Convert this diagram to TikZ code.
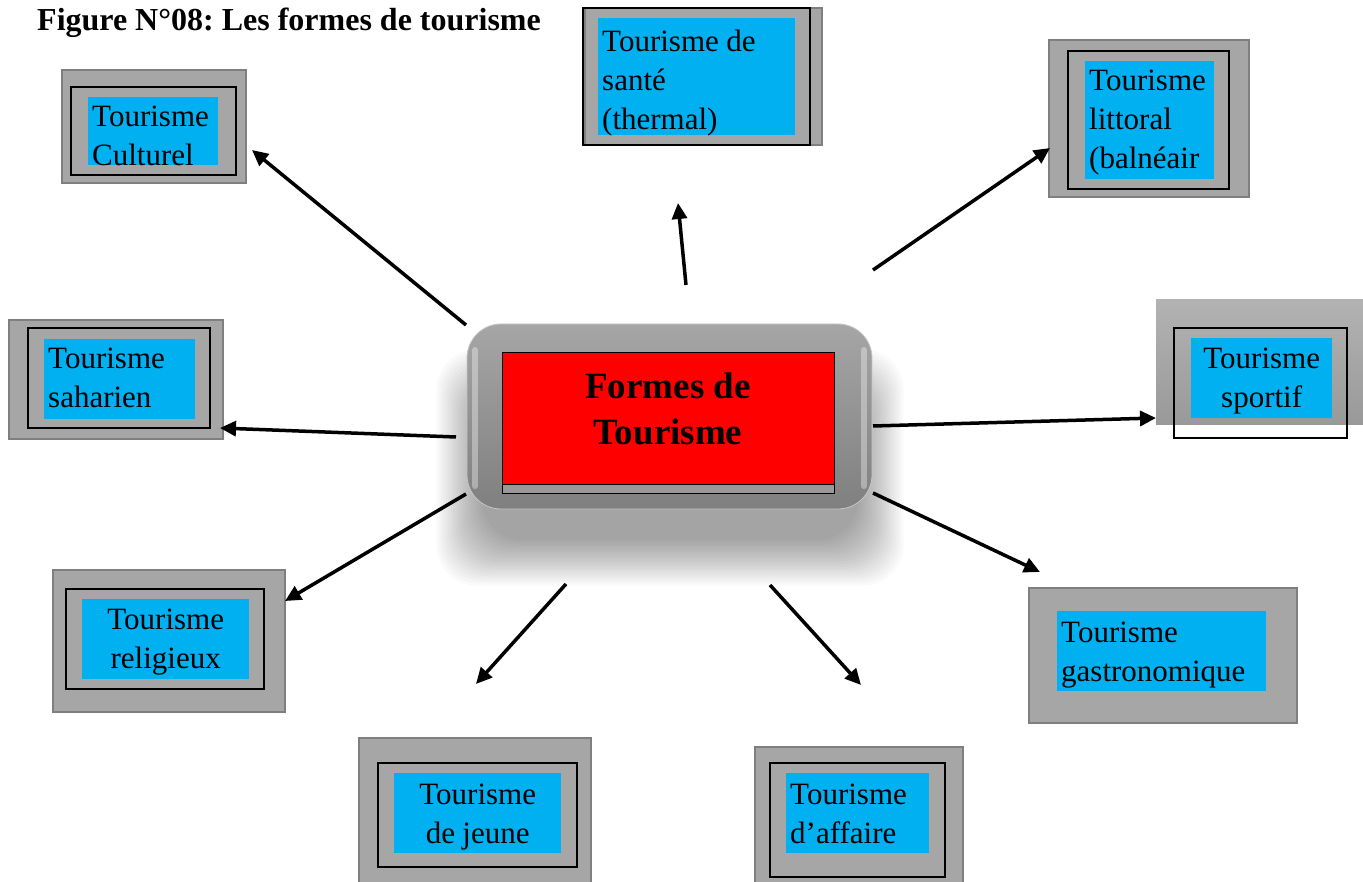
\documentclass[tikz,border=0pt]{standalone}
\usepackage{fontspec}
\setmainfont{Liberation Serif}
\usetikzlibrary{arrows.meta}
\definecolor{boxgray}{HTML}{A6A6A6}
\definecolor{edgegray}{HTML}{7F7F7F}
\definecolor{cyanbox}{HTML}{00B0F0}
\frenchspacing
\newcommand\tagspace{\spaceskip=7.5pt\relax}
\begin{document}
\begin{tikzpicture}[x=1pt,y=-1pt,
  frame/.style={fill=boxgray,draw=edgegray,line width=2pt},
  rim/.style={draw=black,line width=1.2pt},
  % width, text width, first-baseline offset, remaining depth
  tag/.style n args={4}{fill=cyanbox,anchor=north west,inner xsep=4pt,inner ysep=0pt,
    minimum width=#1pt,text width=#2pt,text height=#3pt,text depth=#4pt,
    font=\fontsize{31}{39}\selectfont},
  arrow/.style={line width=3.5pt,-{Triangle[length=16pt,width=15pt]}}
]
\clip (0,0) rectangle (1363,882);
\fill[white] (0,0) rectangle (1363,882);

% title
\node[anchor=base west,inner sep=0pt,font=\bfseries\fontsize{32}{38}\selectfont] (title) at (37,31) {Figure N°08: Les formes de tourisme};

% ---- central element: shadow, bevelled frame, red panel
\foreach \k in {0,...,19}{
  \fill[black,opacity=0.018,rounded corners=40pt]
    (482-\k*2.4,395-\k*2.4) rectangle (858+\k*2.4,540+\k*2.4);
}
\shade[top color=black!35,bottom color=black!50,rounded corners=34pt,draw=black!22,line width=0.8pt]
  (467,324) rectangle (872,509);
\draw[white,opacity=0.35,line width=6pt,line cap=round] (475,350) -- (475,486);
\draw[white,opacity=0.35,line width=6pt,line cap=round] (864,350) -- (864,486);
\fill[black!40,draw=black,line width=1pt] (502,353) rectangle (834,493);
\fill[red,draw=black,line width=1pt] (502,353) rectangle (834,484);
\node[align=center,inner sep=0pt,font=\bfseries\fontsize{37}{46}\selectfont] (core) at (668,409) {Formes de\\Tourisme};

% ---- outer boxes
% culturel
\path[frame] (62,70) rectangle (246,183);
\path[rim] (71,87) rectangle (236,175);
\node[tag={130}{122}{29}{39},align=left] (cult) at (88,97) {Tourisme\\Culturel};
% sante
\path[frame] (585,8) rectangle (822,145);
\path[rim] (583,8) rectangle (810,145);
\node[tag={197}{189}{33}{84},align=left] (sante) at (598,18) {\tagspace Tourisme de\\santé\\(thermal)};
% littoral
\path[frame] (1049,40) rectangle (1249,197);
\path[rim] (1068,51) rectangle (1229,189);
\node[tag={129}{121}{29}{89},align=left] (litt) at (1085,61) {Tourisme\\littoral\\(balnéair};
% sportif
\shade[top color=black!30,bottom color=black!40] (1156,300) rectangle (1363,425);
\path[rim] (1174,328) rectangle (1347,438);
\node[tag={141}{133}{30}{50},align=center] (sport) at (1191,338) {Tourisme\\sportif};
% saharien
\path[frame] (9,320) rectangle (223,439);
\path[rim] (28,328) rectangle (210,428);
\node[tag={151}{143}{29}{51},align=left] (sahara) at (44,339) {Tourisme\\saharien};
% religieux
\path[frame] (53,570) rectangle (285,712);
\path[rim] (66,589) rectangle (264,689);
\node[tag={167}{159}{30}{50},align=center] (relig) at (82,599) {Tourisme\\religieux};
% jeune
\path[frame] (359,738) rectangle (591,892);
\path[rim] (378,763) rectangle (577,867);
\node[tag={167}{159}{31}{49},align=center] (jeune) at (394,773) {\tagspace Tourisme\\de jeune};
% affaire
\path[frame] (755,747) rectangle (963,892);
\path[rim] (770,763) rectangle (945,877);
\node[tag={143}{135}{31}{49},align=left] (aff) at (786,773) {Tourisme\\d’affaire};
% gastronomique
\path[frame] (1029,588) rectangle (1297,723);
\node[tag={209}{201}{31}{49},align=left] (gastro) at (1057,611) {Tourisme\\gastronomique};

% ---- arrow ends
\coordinate (s1) at (466,325); \coordinate (e1) at (252,150);
\coordinate (s2) at (686,285); \coordinate (e2) at (678,203);
\coordinate (s3) at (873,270); \coordinate (e3) at (1050,148);
\coordinate (s4) at (456,437); \coordinate (e4) at (220,428);
\coordinate (s5) at (873,426); \coordinate (e5) at (1156,418);
\coordinate (s6) at (466,494); \coordinate (e6) at (285,601);
\coordinate (s7) at (566,584); \coordinate (e7) at (476,684);
\coordinate (s8) at (770,585); \coordinate (e8) at (861,685);
\coordinate (s9) at (873,493); \coordinate (e9) at (1040,572);

\foreach \i in {1,...,9}{ \draw[arrow] (s\i) -- (e\i); }
\end{tikzpicture}
\end{document}
